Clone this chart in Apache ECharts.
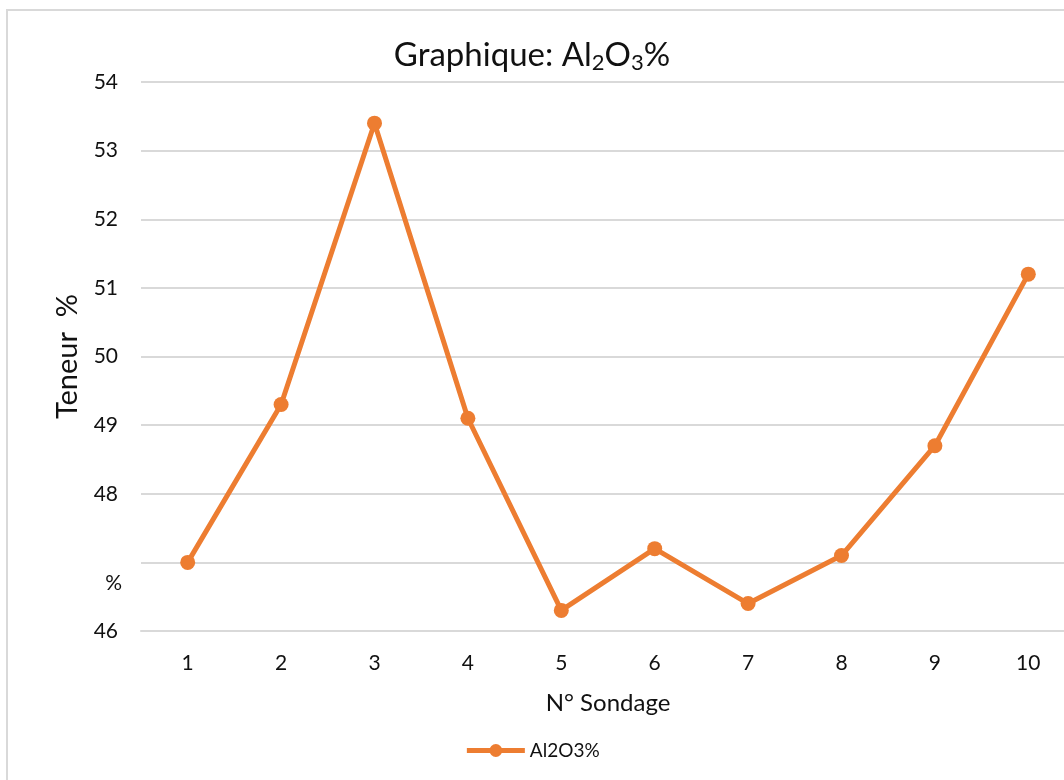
<!DOCTYPE html>
<html>
<head>
<meta charset="utf-8">
<script src="https://cdn.jsdelivr.net/npm/echarts@6/dist/echarts.min.js"></script>
<style>
  html, body { margin: 0; padding: 0; background: #fff; }
  #chart { width: 1064px; height: 780px; }
</style>
</head>
<body>
<div id="chart"></div>
<script>
const sondages = ['1', '2', '3', '4', '5', '6', '7', '8', '9', '10'];
const al2o3 = [47.0, 49.3, 53.4, 49.1, 46.3, 47.2, 46.4, 47.1, 48.7, 51.2];
const yMin = 46;
const yMax = 54;

const FONT = 'Lato, "Liberation Sans", sans-serif';

const myChart = echarts.init(document.getElementById('chart'));

const option = {
  backgroundColor: '#fff',
  animation: false,
  graphic: [
    {
      type: 'rect',
      shape: { x: 7, y: 10, width: 1100, height: 800 },
      style: { fill: 'none', stroke: '#d9d9d9', lineWidth: 2 },
      silent: true
    }
  ],
  title: {
    text: 'Graphique: Al{s|2}O{s|3}%',
    left: 'center',
    top: 31,
    textStyle: {
      fontFamily: FONT,
      fontSize: 33,
      fontWeight: 'normal',
      color: '#111',
      rich: {
        s: { fontFamily: FONT, fontSize: 22, color: '#111', padding: [16, 0, 0, 0] }
      }
    }
  },
  grid: {
    left: 141,
    width: 934,
    top: 82,
    bottom: 149,
    containLabel: false,
    outerBoundsMode: 'none'
  },
  legend: {
    bottom: 15,
    left: 'center',
    itemWidth: 58,
    itemHeight: 16,
    itemStyle: { color: '#ED7D31' },
    lineStyle: { color: '#ED7D31', width: 5 },
    textStyle: { fontFamily: FONT, fontSize: 19, color: '#111' },
    data: ['Al2O3%']
  },
  xAxis: {
    type: 'category',
    data: sondages,
    name: 'N° Sondage',
    nameLocation: 'middle',
    nameGap: 60,
    nameTextStyle: { fontFamily: FONT, fontSize: 24, color: '#111' },
    axisLine: { lineStyle: { color: '#d9d9d9', width: 2 } },
    axisTick: { show: false },
    axisLabel: { fontFamily: FONT, fontSize: 21, color: '#111', margin: 22 }
  },
  yAxis: {
    type: 'value',
    min: yMin,
    max: yMax,
    interval: 1,
    name: 'Teneur  %',
    nameLocation: 'middle',
    nameGap: 59,
    nameTextStyle: { fontFamily: FONT, fontSize: 29, color: '#111' },
    axisLine: { show: false },
    axisTick: { show: false },
    splitLine: { lineStyle: { color: '#d9d9d9', width: 2 } },
    axisLabel: {
      fontFamily: FONT,
      fontSize: 21,
      color: '#111',
      margin: 23,
      formatter: function (v) {
        return v === 47 ? '{p|%}' : String(v);
      },
      rich: {
        p: { fontFamily: FONT, fontSize: 21, color: '#111', padding: [42, -4, 0, 0] }
      }
    }
  },
  series: [
    {
      name: 'Al2O3%',
      type: 'line',
      data: al2o3,
      symbol: 'circle',
      symbolSize: 15,
      lineStyle: { color: '#ED7D31', width: 5 },
      itemStyle: { color: '#ED7D31' }
    }
  ]
};

myChart.setOption(option);
</script>
</body>
</html>
